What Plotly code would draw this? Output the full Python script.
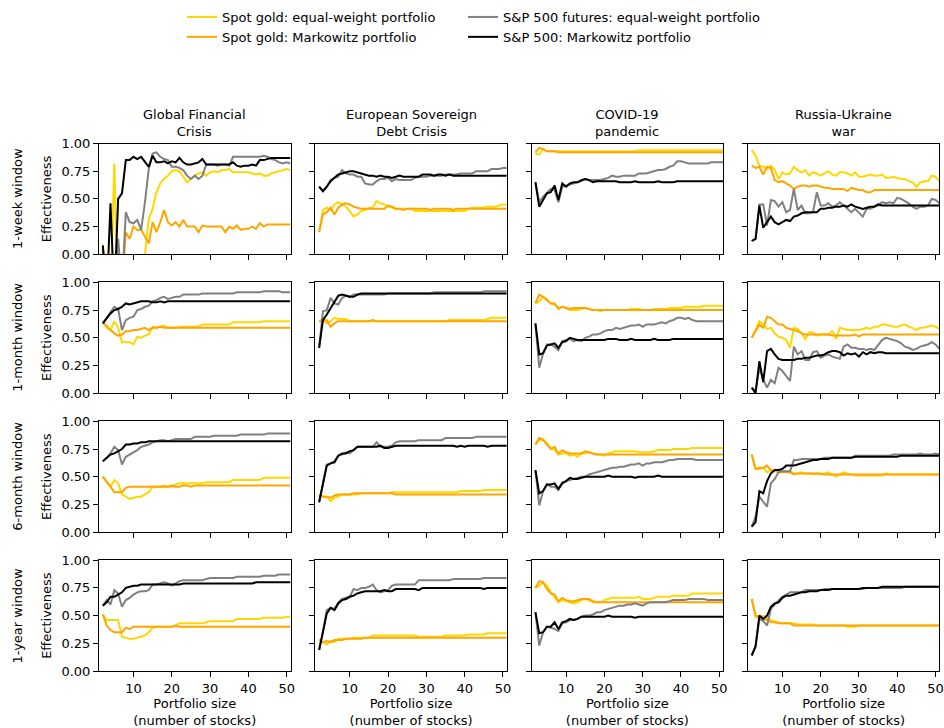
import plotly.graph_objects as go

# ---------------- data ----------------
sizes = list(range(2, 52))  # portfolio size (number of stocks)

crises = ["Global Financial<br>Crisis", "European Sovereign<br>Debt Crisis",
          "COVID-19<br>pandemic", "Russia-Ukraine<br>war"]
windows = ["1-week window", "1-month window", "6-month window", "1-year window"]
series_names = ["Spot gold: equal-weight portfolio", "Spot gold: Markowitz portfolio",
                "S&P 500 futures: equal-weight portfolio", "S&P 500: Markowitz portfolio"]
series_colors = ["#FFD700", "#FFA500", "#808080", "#000000"]
x_ticks = [10, 20, 30, 40, 50]
y_ticks = [0.0, 0.25, 0.5, 0.75, 1.0]

# Global Financial Crisis
gfc_1w_gold_eq = [0.08,-0.3,-0.4,0.82,-0.5,-0.5,-0.5,-0.5,-0.5,-0.4,
                  -0.2,0.00,0.32,0.41,0.56,0.64,0.68,0.71,0.75,0.76,
                  0.75,0.70,0.65,0.68,0.71,0.73,0.74,0.71,0.74,0.75,
                  0.74,0.76,0.76,0.77,0.74,0.74,0.74,0.74,0.74,0.73,
                  0.72,0.73,0.71,0.71,0.73,0.74,0.75,0.76,0.77,0.76]
gfc_1w_gold_mk = [0.07,-0.3,-0.5,-0.5,-0.5,-0.3,0.20,0.14,0.25,0.22,
                  0.22,0.16,0.10,0.29,0.20,0.29,0.40,0.29,0.26,0.29,
                  0.25,0.31,0.25,0.25,0.25,0.20,0.26,0.25,0.25,0.25,
                  0.25,0.25,0.20,0.25,0.23,0.26,0.22,0.23,0.23,0.25,
                  0.23,0.28,0.25,0.27,0.27,0.27,0.27,0.27,0.27,0.27]
gfc_1w_sp_eq = [0.03,-0.3,-0.5,-0.3,0.14,-0.3,0.38,0.29,0.28,0.31,
                0.22,0.47,0.77,0.91,0.92,0.88,0.86,0.85,0.79,0.79,
                0.78,0.76,0.71,0.68,0.71,0.68,0.71,0.81,0.81,0.81,
                0.80,0.81,0.81,0.80,0.88,0.88,0.88,0.88,0.88,0.88,
                0.88,0.88,0.89,0.88,0.86,0.85,0.83,0.82,0.83,0.82]
gfc_1w_sp_mk = [0.08,-0.4,0.46,-0.4,0.50,0.55,0.85,0.85,0.88,0.86,
                0.88,0.83,0.79,0.89,0.83,0.83,0.84,0.82,0.84,0.83,
                0.87,0.83,0.81,0.81,0.82,0.83,0.86,0.81,0.81,0.81,
                0.81,0.81,0.81,0.81,0.83,0.80,0.79,0.80,0.80,0.81,
                0.80,0.85,0.85,0.86,0.87,0.87,0.87,0.87,0.87,0.87]

gfc_1m_gold_eq = [0.64,0.59,0.57,0.65,0.59,0.46,0.46,0.46,0.44,0.51,
                  0.50,0.52,0.53,0.60,0.59,0.60,0.61,0.59,0.59,0.59,
                  0.60,0.60,0.60,0.60,0.60,0.60,0.62,0.62,0.62,0.62,
                  0.62,0.62,0.62,0.62,0.64,0.64,0.64,0.64,0.64,0.64,
                  0.64,0.64,0.65,0.65,0.65,0.65,0.65,0.65,0.65,0.65]
gfc_1m_gold_mk = [0.64,0.60,0.57,0.54,0.52,0.53,0.56,0.56,0.57,0.57,
                  0.58,0.59,0.57,0.59,0.59,0.60,0.59,0.59,0.59,0.59,
                  0.59,0.59,0.59,0.59,0.59,0.59,0.59,0.59,0.59,0.59,
                  0.59,0.59,0.59,0.59,0.59,0.59,0.59,0.59,0.59,0.59,
                  0.59,0.59,0.59,0.59,0.59,0.59,0.59,0.59,0.59,0.59]
gfc_1m_sp_eq = [0.63,0.68,0.72,0.78,0.76,0.57,0.66,0.68,0.69,0.75,
                0.76,0.78,0.79,0.83,0.84,0.86,0.87,0.85,0.86,0.87,
                0.87,0.89,0.89,0.89,0.89,0.89,0.90,0.90,0.90,0.90,
                0.90,0.90,0.90,0.90,0.90,0.91,0.91,0.91,0.91,0.91,
                0.91,0.91,0.92,0.92,0.92,0.92,0.92,0.91,0.91,0.91]
gfc_1m_sp_mk = [0.63,0.68,0.72,0.75,0.76,0.78,0.81,0.80,0.81,0.82,
                0.83,0.83,0.83,0.82,0.82,0.83,0.82,0.83,0.83,0.83,
                0.83,0.83,0.83,0.83,0.83,0.83,0.83,0.83,0.83,0.83,
                0.83,0.83,0.83,0.83,0.83,0.83,0.83,0.83,0.83,0.83,
                0.83,0.83,0.83,0.83,0.83,0.83,0.83,0.83,0.83,0.83]

gfc_6m_gold_eq = [0.50,0.46,0.41,0.47,0.44,0.34,0.32,0.30,0.31,0.32,
                  0.32,0.34,0.36,0.41,0.41,0.41,0.42,0.41,0.41,0.43,
                  0.44,0.44,0.44,0.44,0.44,0.44,0.44,0.45,0.45,0.45,
                  0.45,0.45,0.45,0.45,0.47,0.47,0.47,0.47,0.47,0.47,
                  0.47,0.47,0.49,0.49,0.49,0.49,0.49,0.49,0.49,0.49]
gfc_6m_gold_mk = [0.50,0.46,0.41,0.36,0.36,0.36,0.40,0.41,0.41,0.41,
                  0.41,0.41,0.41,0.41,0.41,0.41,0.41,0.41,0.42,0.41,
                  0.41,0.42,0.42,0.41,0.42,0.42,0.42,0.42,0.42,0.42,
                  0.42,0.42,0.42,0.42,0.42,0.42,0.42,0.42,0.42,0.42,
                  0.42,0.42,0.42,0.42,0.42,0.42,0.42,0.42,0.42,0.42]
gfc_6m_sp_eq = [0.64,0.67,0.71,0.77,0.74,0.61,0.68,0.70,0.72,0.74,
                0.77,0.78,0.79,0.81,0.82,0.83,0.83,0.82,0.83,0.84,
                0.84,0.84,0.84,0.84,0.86,0.86,0.86,0.86,0.86,0.87,
                0.87,0.87,0.87,0.87,0.87,0.87,0.88,0.88,0.88,0.88,
                0.88,0.88,0.88,0.89,0.89,0.89,0.89,0.89,0.89,0.89]
gfc_6m_sp_mk = [0.64,0.67,0.70,0.71,0.73,0.75,0.79,0.79,0.80,0.80,
                0.81,0.81,0.82,0.82,0.82,0.82,0.82,0.82,0.82,0.82,
                0.82,0.82,0.82,0.82,0.82,0.82,0.82,0.82,0.82,0.82,
                0.82,0.82,0.82,0.82,0.82,0.82,0.82,0.82,0.82,0.82,
                0.82,0.82,0.82,0.82,0.82,0.82,0.82,0.82,0.82,0.82]

gfc_1y_gold_eq = [0.51,0.46,0.46,0.46,0.46,0.31,0.30,0.29,0.29,0.30,
                  0.31,0.32,0.35,0.39,0.40,0.40,0.40,0.40,0.40,0.41,
                  0.43,0.43,0.43,0.43,0.43,0.43,0.43,0.44,0.45,0.45,
                  0.45,0.45,0.45,0.45,0.45,0.47,0.47,0.47,0.47,0.47,
                  0.47,0.47,0.48,0.48,0.48,0.48,0.48,0.48,0.49,0.49]
gfc_1y_gold_mk = [0.51,0.41,0.37,0.35,0.35,0.35,0.39,0.38,0.40,0.40,
                  0.40,0.40,0.40,0.40,0.40,0.40,0.40,0.40,0.40,0.41,
                  0.40,0.40,0.40,0.40,0.40,0.40,0.40,0.40,0.40,0.40,
                  0.40,0.40,0.40,0.40,0.40,0.40,0.40,0.40,0.40,0.40,
                  0.40,0.40,0.40,0.40,0.40,0.40,0.40,0.40,0.40,0.40]
gfc_1y_sp_eq = [0.59,0.64,0.60,0.73,0.70,0.58,0.64,0.66,0.69,0.71,
                0.72,0.72,0.73,0.78,0.78,0.79,0.80,0.79,0.77,0.79,
                0.81,0.82,0.82,0.82,0.82,0.82,0.82,0.83,0.84,0.84,
                0.84,0.84,0.84,0.84,0.84,0.85,0.85,0.85,0.85,0.85,
                0.85,0.85,0.86,0.86,0.86,0.86,0.87,0.87,0.87,0.87]
gfc_1y_sp_mk = [0.59,0.62,0.67,0.67,0.69,0.71,0.75,0.76,0.77,0.77,
                0.78,0.78,0.78,0.78,0.78,0.78,0.78,0.78,0.78,0.78,
                0.78,0.79,0.79,0.79,0.79,0.79,0.79,0.79,0.79,0.79,
                0.79,0.79,0.79,0.79,0.79,0.79,0.79,0.79,0.79,0.79,
                0.80,0.80,0.80,0.80,0.80,0.80,0.80,0.80,0.80,0.80]

# European Sovereign Debt Crisis
eu_1w_gold_eq = [0.20,0.40,0.42,0.40,0.45,0.47,0.45,0.43,0.39,0.34,
                 0.36,0.39,0.40,0.42,0.42,0.48,0.46,0.45,0.43,0.42,
                 0.41,0.41,0.41,0.41,0.41,0.39,0.39,0.39,0.39,0.39,
                 0.39,0.39,0.39,0.39,0.39,0.39,0.39,0.39,0.39,0.41,
                 0.42,0.42,0.42,0.42,0.43,0.43,0.43,0.44,0.45,0.45]
eu_1w_gold_mk = [0.20,0.36,0.38,0.42,0.36,0.42,0.45,0.46,0.45,0.43,
                 0.42,0.41,0.41,0.41,0.41,0.41,0.41,0.41,0.44,0.43,
                 0.41,0.41,0.40,0.41,0.41,0.41,0.41,0.41,0.41,0.40,
                 0.41,0.41,0.41,0.41,0.41,0.40,0.41,0.41,0.41,0.41,
                 0.41,0.41,0.41,0.41,0.41,0.41,0.41,0.41,0.41,0.41]
eu_1w_sp_eq = [0.61,0.57,0.61,0.67,0.69,0.70,0.76,0.73,0.72,0.72,
               0.70,0.70,0.64,0.63,0.63,0.66,0.68,0.68,0.69,0.66,
               0.68,0.67,0.67,0.67,0.67,0.69,0.70,0.70,0.70,0.71,
               0.71,0.71,0.71,0.72,0.72,0.72,0.72,0.73,0.73,0.73,
               0.73,0.75,0.75,0.75,0.75,0.77,0.77,0.77,0.78,0.78]
eu_1w_sp_mk = [0.61,0.57,0.61,0.66,0.69,0.72,0.73,0.74,0.75,0.75,
               0.74,0.73,0.72,0.71,0.71,0.70,0.71,0.70,0.70,0.69,
               0.70,0.71,0.70,0.70,0.70,0.70,0.70,0.72,0.72,0.72,
               0.71,0.72,0.72,0.71,0.72,0.71,0.71,0.71,0.71,0.71,
               0.71,0.71,0.71,0.71,0.71,0.71,0.71,0.71,0.71,0.71]

eu_1m_gold_eq = [0.65,0.67,0.63,0.65,0.68,0.67,0.67,0.67,0.65,0.65,
                 0.65,0.65,0.65,0.65,0.65,0.65,0.65,0.65,0.65,0.65,
                 0.65,0.65,0.65,0.65,0.65,0.65,0.65,0.65,0.65,0.65,
                 0.65,0.65,0.65,0.65,0.66,0.66,0.66,0.66,0.66,0.66,
                 0.66,0.66,0.66,0.66,0.67,0.68,0.68,0.68,0.68,0.68]
eu_1m_gold_mk = [0.65,0.65,0.66,0.60,0.63,0.65,0.65,0.65,0.65,0.65,
                 0.65,0.65,0.65,0.65,0.66,0.65,0.65,0.65,0.65,0.65,
                 0.65,0.65,0.65,0.65,0.65,0.65,0.65,0.65,0.65,0.65,
                 0.65,0.65,0.65,0.65,0.65,0.65,0.65,0.65,0.65,0.65,
                 0.65,0.65,0.65,0.65,0.65,0.65,0.65,0.65,0.65,0.65]
eu_1m_sp_eq = [0.41,0.74,0.75,0.86,0.81,0.80,0.86,0.88,0.87,0.89,
               0.89,0.89,0.89,0.89,0.89,0.89,0.89,0.89,0.90,0.90,
               0.90,0.90,0.90,0.90,0.90,0.90,0.90,0.90,0.90,0.90,
               0.91,0.91,0.91,0.91,0.91,0.91,0.91,0.91,0.91,0.91,
               0.91,0.91,0.91,0.92,0.92,0.92,0.92,0.92,0.92,0.92]
eu_1m_sp_mk = [0.41,0.66,0.71,0.77,0.83,0.88,0.89,0.88,0.87,0.87,
               0.89,0.90,0.90,0.90,0.90,0.90,0.90,0.90,0.90,0.90,
               0.90,0.90,0.90,0.90,0.90,0.90,0.90,0.90,0.90,0.90,
               0.90,0.90,0.90,0.90,0.90,0.90,0.90,0.90,0.90,0.90,
               0.90,0.90,0.90,0.90,0.90,0.90,0.90,0.90,0.90,0.90]

eu_6m_gold_eq = [0.34,0.32,0.32,0.28,0.31,0.32,0.34,0.34,0.34,0.34,
                 0.34,0.35,0.35,0.35,0.35,0.35,0.35,0.35,0.35,0.36,
                 0.36,0.36,0.36,0.36,0.36,0.36,0.36,0.36,0.36,0.36,
                 0.36,0.36,0.36,0.36,0.36,0.36,0.36,0.37,0.37,0.37,
                 0.37,0.37,0.37,0.38,0.38,0.38,0.38,0.38,0.38,0.38]
eu_6m_gold_mk = [0.34,0.32,0.32,0.31,0.33,0.34,0.34,0.34,0.34,0.35,
                 0.35,0.35,0.35,0.35,0.35,0.35,0.35,0.35,0.35,0.35,
                 0.34,0.34,0.34,0.34,0.34,0.34,0.34,0.34,0.34,0.34,
                 0.34,0.34,0.34,0.34,0.34,0.34,0.34,0.34,0.34,0.34,
                 0.34,0.34,0.34,0.34,0.34,0.34,0.34,0.34,0.34,0.34]
eu_6m_sp_eq = [0.27,0.43,0.61,0.62,0.64,0.69,0.70,0.72,0.71,0.74,
               0.77,0.77,0.77,0.77,0.77,0.81,0.77,0.77,0.77,0.78,
               0.81,0.82,0.82,0.82,0.82,0.82,0.83,0.83,0.83,0.83,
               0.83,0.83,0.83,0.85,0.85,0.85,0.85,0.85,0.85,0.85,
               0.85,0.86,0.86,0.86,0.86,0.86,0.86,0.86,0.86,0.86]
eu_6m_sp_mk = [0.27,0.44,0.60,0.62,0.63,0.69,0.71,0.71,0.73,0.74,
               0.77,0.77,0.77,0.77,0.77,0.77,0.78,0.76,0.76,0.77,
               0.78,0.78,0.78,0.78,0.78,0.78,0.78,0.78,0.78,0.78,
               0.78,0.78,0.78,0.78,0.78,0.78,0.77,0.78,0.77,0.78,
               0.78,0.78,0.78,0.78,0.77,0.78,0.78,0.78,0.78,0.78]

eu_1y_gold_eq = [0.28,0.26,0.24,0.27,0.26,0.29,0.29,0.29,0.29,0.30,
                 0.30,0.30,0.30,0.30,0.32,0.32,0.32,0.32,0.32,0.32,
                 0.32,0.32,0.32,0.32,0.32,0.32,0.31,0.31,0.31,0.31,
                 0.31,0.31,0.31,0.32,0.32,0.32,0.32,0.32,0.32,0.33,
                 0.33,0.33,0.33,0.33,0.34,0.34,0.34,0.34,0.34,0.34]
eu_1y_gold_mk = [0.28,0.26,0.27,0.26,0.28,0.28,0.28,0.29,0.29,0.29,
                 0.29,0.29,0.30,0.30,0.30,0.30,0.30,0.30,0.30,0.30,
                 0.30,0.30,0.30,0.30,0.30,0.30,0.30,0.30,0.30,0.30,
                 0.30,0.30,0.30,0.30,0.30,0.30,0.30,0.30,0.30,0.30,
                 0.30,0.30,0.30,0.30,0.30,0.30,0.30,0.30,0.30,0.30]
eu_1y_sp_eq = [0.19,0.35,0.55,0.57,0.56,0.62,0.65,0.66,0.67,0.74,
               0.73,0.75,0.75,0.76,0.78,0.73,0.71,0.72,0.73,0.77,
               0.78,0.78,0.78,0.78,0.78,0.78,0.82,0.82,0.82,0.82,
               0.82,0.82,0.82,0.82,0.82,0.83,0.83,0.83,0.83,0.83,
               0.83,0.83,0.83,0.84,0.84,0.84,0.84,0.84,0.84,0.84]
eu_1y_sp_mk = [0.19,0.35,0.52,0.57,0.55,0.61,0.64,0.65,0.67,0.68,
               0.70,0.71,0.72,0.72,0.72,0.72,0.72,0.73,0.72,0.72,
               0.74,0.74,0.74,0.74,0.74,0.74,0.73,0.75,0.75,0.75,
               0.75,0.75,0.75,0.75,0.75,0.75,0.75,0.75,0.75,0.75,
               0.75,0.75,0.75,0.74,0.75,0.75,0.75,0.75,0.75,0.75]

# COVID-19 pandemic
cov_1w_gold_eq = [0.91,0.90,0.95,0.93,0.93,0.93,0.93,0.93,0.93,0.93,
                  0.93,0.93,0.93,0.93,0.93,0.93,0.93,0.93,0.93,0.93,
                  0.93,0.93,0.93,0.93,0.93,0.93,0.93,0.94,0.94,0.94,
                  0.94,0.94,0.94,0.94,0.94,0.94,0.94,0.94,0.94,0.94,
                  0.94,0.94,0.94,0.94,0.94,0.94,0.94,0.94,0.94,0.94]
cov_1w_gold_mk = [0.92,0.96,0.95,0.93,0.93,0.93,0.92,0.92,0.92,0.92,
                  0.92,0.92,0.92,0.92,0.92,0.92,0.92,0.92,0.92,0.92,
                  0.92,0.92,0.92,0.92,0.92,0.92,0.92,0.92,0.92,0.92,
                  0.92,0.92,0.92,0.92,0.92,0.92,0.92,0.92,0.92,0.92,
                  0.92,0.92,0.92,0.92,0.92,0.92,0.92,0.92,0.92,0.92]
cov_1w_sp_eq = [0.65,0.47,0.52,0.56,0.59,0.58,0.47,0.61,0.62,0.63,
                0.64,0.65,0.66,0.68,0.67,0.67,0.67,0.67,0.68,0.69,
                0.71,0.70,0.70,0.71,0.71,0.71,0.71,0.73,0.73,0.73,
                0.74,0.75,0.76,0.76,0.77,0.79,0.80,0.84,0.84,0.83,
                0.82,0.82,0.82,0.82,0.82,0.82,0.83,0.83,0.83,0.83]
cov_1w_sp_mk = [0.65,0.43,0.49,0.55,0.56,0.62,0.49,0.64,0.61,0.64,
                0.65,0.65,0.67,0.68,0.67,0.65,0.66,0.66,0.66,0.66,
                0.66,0.66,0.65,0.65,0.65,0.65,0.66,0.65,0.65,0.65,
                0.65,0.65,0.66,0.65,0.65,0.65,0.65,0.66,0.66,0.66,
                0.66,0.66,0.66,0.66,0.66,0.66,0.66,0.66,0.66,0.66]

cov_1m_gold_eq = [0.81,0.83,0.87,0.85,0.81,0.80,0.77,0.78,0.77,0.75,
                  0.75,0.75,0.76,0.77,0.76,0.75,0.75,0.74,0.75,0.75,
                  0.75,0.75,0.75,0.75,0.75,0.76,0.76,0.76,0.75,0.75,
                  0.75,0.76,0.76,0.76,0.76,0.77,0.77,0.77,0.77,0.78,
                  0.78,0.78,0.78,0.78,0.79,0.79,0.79,0.79,0.79,0.79]
cov_1m_gold_mk = [0.81,0.89,0.87,0.84,0.81,0.81,0.76,0.78,0.77,0.76,
                  0.77,0.77,0.77,0.77,0.76,0.75,0.75,0.75,0.75,0.75,
                  0.75,0.75,0.75,0.75,0.75,0.75,0.75,0.75,0.75,0.75,
                  0.75,0.75,0.75,0.75,0.75,0.75,0.75,0.75,0.75,0.75,
                  0.75,0.75,0.75,0.75,0.75,0.75,0.75,0.75,0.75,0.75]
cov_1m_sp_eq = [0.63,0.23,0.36,0.44,0.44,0.42,0.39,0.47,0.48,0.49,
                0.47,0.48,0.47,0.50,0.51,0.53,0.53,0.54,0.56,0.57,
                0.57,0.59,0.58,0.59,0.60,0.61,0.61,0.62,0.60,0.62,
                0.62,0.62,0.63,0.64,0.63,0.65,0.66,0.68,0.68,0.67,
                0.68,0.66,0.65,0.65,0.65,0.65,0.65,0.65,0.65,0.65]
cov_1m_sp_mk = [0.63,0.35,0.36,0.43,0.44,0.45,0.41,0.46,0.47,0.50,
                0.49,0.48,0.48,0.48,0.48,0.48,0.48,0.48,0.48,0.49,
                0.49,0.49,0.48,0.48,0.48,0.49,0.48,0.48,0.48,0.48,
                0.48,0.49,0.48,0.48,0.48,0.48,0.49,0.49,0.49,0.49,
                0.49,0.49,0.49,0.49,0.49,0.49,0.49,0.49,0.49,0.49]

cov_6m_gold_eq = [0.79,0.83,0.84,0.80,0.76,0.74,0.70,0.71,0.71,0.69,
                  0.70,0.68,0.71,0.71,0.72,0.71,0.70,0.70,0.69,0.71,
                  0.72,0.73,0.73,0.73,0.73,0.73,0.73,0.72,0.72,0.72,
                  0.72,0.73,0.74,0.74,0.74,0.74,0.75,0.75,0.75,0.75,
                  0.75,0.76,0.76,0.76,0.76,0.76,0.76,0.76,0.76,0.76]
cov_6m_gold_mk = [0.79,0.85,0.83,0.79,0.75,0.77,0.71,0.74,0.72,0.71,
                  0.71,0.71,0.71,0.73,0.72,0.71,0.70,0.70,0.70,0.70,
                  0.70,0.70,0.70,0.70,0.70,0.70,0.70,0.70,0.70,0.70,
                  0.70,0.70,0.70,0.70,0.70,0.70,0.70,0.70,0.70,0.70,
                  0.70,0.70,0.70,0.70,0.70,0.70,0.70,0.70,0.70,0.70]
cov_6m_sp_eq = [0.56,0.24,0.37,0.43,0.41,0.41,0.38,0.45,0.46,0.47,
                0.48,0.49,0.50,0.50,0.52,0.53,0.54,0.55,0.56,0.57,
                0.58,0.58,0.59,0.59,0.60,0.61,0.61,0.62,0.60,0.62,
                0.62,0.63,0.63,0.63,0.64,0.65,0.65,0.66,0.66,0.66,
                0.66,0.66,0.65,0.65,0.65,0.65,0.65,0.65,0.65,0.65]
cov_6m_sp_mk = [0.56,0.35,0.37,0.43,0.43,0.44,0.39,0.44,0.46,0.49,
                0.48,0.48,0.49,0.50,0.50,0.50,0.50,0.50,0.50,0.51,
                0.50,0.50,0.50,0.50,0.50,0.50,0.49,0.50,0.50,0.50,
                0.50,0.50,0.51,0.50,0.50,0.50,0.50,0.50,0.50,0.50,
                0.50,0.50,0.50,0.50,0.50,0.50,0.50,0.50,0.50,0.50]

cov_1y_gold_eq = [0.75,0.77,0.80,0.77,0.71,0.67,0.62,0.64,0.63,0.62,
                  0.61,0.62,0.64,0.65,0.64,0.62,0.62,0.62,0.64,0.65,
                  0.66,0.66,0.66,0.66,0.66,0.66,0.66,0.67,0.65,0.65,
                  0.65,0.66,0.67,0.67,0.67,0.67,0.68,0.68,0.68,0.68,
                  0.68,0.70,0.70,0.70,0.70,0.70,0.70,0.70,0.70,0.70]
cov_1y_gold_mk = [0.75,0.81,0.80,0.74,0.70,0.69,0.63,0.66,0.64,0.63,
                  0.63,0.64,0.65,0.65,0.65,0.63,0.62,0.62,0.62,0.62,
                  0.62,0.62,0.62,0.62,0.62,0.62,0.62,0.62,0.62,0.62,
                  0.62,0.62,0.62,0.62,0.62,0.62,0.62,0.62,0.62,0.62,
                  0.62,0.62,0.62,0.62,0.62,0.62,0.62,0.62,0.62,0.62]
cov_1y_sp_eq = [0.53,0.23,0.35,0.40,0.39,0.38,0.36,0.43,0.44,0.46,
                0.46,0.47,0.49,0.50,0.50,0.51,0.53,0.53,0.55,0.56,
                0.57,0.58,0.59,0.59,0.60,0.60,0.61,0.60,0.59,0.61,
                0.62,0.62,0.62,0.62,0.62,0.63,0.64,0.64,0.64,0.64,
                0.65,0.65,0.65,0.65,0.65,0.64,0.64,0.64,0.64,0.64]
cov_1y_sp_mk = [0.53,0.34,0.35,0.40,0.40,0.44,0.38,0.44,0.45,0.47,
                0.46,0.47,0.49,0.49,0.49,0.49,0.49,0.49,0.49,0.50,
                0.49,0.49,0.49,0.49,0.49,0.49,0.48,0.49,0.49,0.49,
                0.49,0.49,0.49,0.49,0.49,0.49,0.49,0.49,0.49,0.49,
                0.49,0.49,0.49,0.49,0.49,0.49,0.49,0.49,0.49,0.49]

# Russia-Ukraine war
ru_1w_gold_eq = [0.94,0.89,0.80,0.79,0.77,0.80,0.76,0.68,0.74,0.72,
                 0.73,0.79,0.76,0.74,0.76,0.71,0.74,0.73,0.71,0.73,
                 0.75,0.72,0.71,0.74,0.74,0.73,0.71,0.74,0.70,0.70,
                 0.71,0.72,0.71,0.71,0.72,0.69,0.69,0.70,0.69,0.68,
                 0.68,0.66,0.65,0.61,0.65,0.66,0.66,0.71,0.70,0.66]
ru_1w_gold_mk = [0.80,0.78,0.79,0.72,0.79,0.78,0.67,0.65,0.66,0.64,
                 0.62,0.59,0.61,0.62,0.62,0.61,0.62,0.62,0.61,0.60,
                 0.60,0.59,0.59,0.59,0.59,0.57,0.60,0.59,0.58,0.58,
                 0.56,0.56,0.58,0.58,0.58,0.58,0.58,0.58,0.58,0.58,
                 0.58,0.58,0.58,0.58,0.58,0.58,0.58,0.58,0.58,0.58]
ru_1w_sp_eq = [0.12,0.14,0.45,0.45,0.26,0.49,0.48,0.43,0.47,0.38,
               0.40,0.59,0.40,0.44,0.37,0.37,0.38,0.56,0.44,0.44,
               0.46,0.43,0.44,0.47,0.44,0.41,0.38,0.41,0.37,0.34,
               0.41,0.41,0.43,0.44,0.47,0.46,0.47,0.46,0.51,0.50,
               0.48,0.46,0.43,0.41,0.43,0.43,0.44,0.50,0.49,0.46]
ru_1w_sp_mk = [0.12,0.14,0.44,0.24,0.29,0.34,0.29,0.27,0.29,0.31,
               0.30,0.34,0.35,0.37,0.38,0.38,0.38,0.38,0.41,0.41,
               0.42,0.42,0.43,0.43,0.44,0.43,0.45,0.43,0.42,0.41,
               0.42,0.43,0.43,0.45,0.44,0.44,0.44,0.44,0.44,0.44,
               0.44,0.44,0.44,0.44,0.44,0.44,0.44,0.44,0.44,0.44]

ru_1m_gold_eq = [0.50,0.57,0.65,0.62,0.58,0.59,0.54,0.51,0.50,0.48,
                 0.41,0.59,0.58,0.54,0.49,0.55,0.55,0.52,0.53,0.53,
                 0.53,0.56,0.49,0.59,0.58,0.57,0.57,0.57,0.57,0.58,
                 0.59,0.58,0.60,0.60,0.62,0.62,0.61,0.60,0.60,0.61,
                 0.62,0.60,0.59,0.57,0.59,0.59,0.60,0.61,0.60,0.58]
ru_1m_gold_mk = [0.50,0.56,0.62,0.59,0.69,0.68,0.65,0.62,0.62,0.59,
                 0.58,0.57,0.56,0.54,0.53,0.53,0.53,0.53,0.53,0.53,
                 0.53,0.52,0.52,0.52,0.52,0.52,0.52,0.53,0.51,0.53,
                 0.53,0.53,0.53,0.53,0.53,0.53,0.53,0.53,0.53,0.53,
                 0.53,0.53,0.53,0.53,0.53,0.53,0.53,0.53,0.53,0.53]
ru_1m_sp_eq = [0.05,0.02,0.23,0.12,0.05,0.12,0.09,0.23,0.20,0.16,
               0.11,0.42,0.35,0.38,0.30,0.30,0.37,0.38,0.32,0.34,
               0.35,0.33,0.32,0.31,0.42,0.44,0.41,0.41,0.40,0.40,
               0.39,0.40,0.39,0.44,0.48,0.50,0.49,0.48,0.47,0.45,
               0.42,0.41,0.39,0.40,0.42,0.43,0.44,0.46,0.44,0.40]
ru_1m_sp_mk = [0.05,0.00,0.29,0.10,0.38,0.40,0.35,0.31,0.30,0.30,
               0.30,0.30,0.31,0.31,0.32,0.32,0.33,0.34,0.34,0.35,
               0.37,0.38,0.38,0.37,0.34,0.36,0.35,0.36,0.33,0.37,
               0.35,0.37,0.36,0.37,0.37,0.36,0.36,0.36,0.36,0.36,
               0.36,0.36,0.36,0.36,0.36,0.36,0.36,0.36,0.36,0.36]

ru_6m_gold_eq = [0.70,0.57,0.57,0.58,0.54,0.56,0.55,0.56,0.55,0.54,
                 0.55,0.53,0.53,0.54,0.53,0.53,0.52,0.53,0.52,0.53,
                 0.54,0.52,0.50,0.52,0.54,0.53,0.52,0.51,0.51,0.51,
                 0.51,0.51,0.51,0.51,0.51,0.53,0.52,0.52,0.52,0.52,
                 0.52,0.52,0.52,0.52,0.52,0.52,0.52,0.52,0.52,0.52]
ru_6m_gold_mk = [0.70,0.57,0.58,0.58,0.60,0.56,0.55,0.54,0.54,0.54,
                 0.54,0.52,0.53,0.53,0.53,0.53,0.53,0.53,0.53,0.52,
                 0.52,0.52,0.52,0.52,0.52,0.52,0.52,0.52,0.52,0.52,
                 0.52,0.52,0.52,0.52,0.52,0.52,0.52,0.52,0.52,0.52,
                 0.52,0.52,0.52,0.52,0.52,0.52,0.52,0.52,0.52,0.52]
ru_6m_sp_eq = [0.05,0.14,0.32,0.28,0.23,0.44,0.48,0.54,0.55,0.55,
               0.55,0.65,0.65,0.66,0.66,0.66,0.66,0.66,0.66,0.67,
               0.67,0.67,0.67,0.67,0.67,0.67,0.67,0.69,0.69,0.69,
               0.69,0.69,0.69,0.69,0.69,0.69,0.69,0.70,0.70,0.70,
               0.70,0.70,0.70,0.70,0.71,0.70,0.70,0.70,0.71,0.70]
ru_6m_sp_mk = [0.05,0.09,0.37,0.35,0.46,0.53,0.56,0.56,0.57,0.60,
               0.60,0.60,0.61,0.62,0.63,0.64,0.65,0.65,0.66,0.66,
               0.66,0.67,0.67,0.67,0.67,0.67,0.67,0.68,0.68,0.68,
               0.68,0.68,0.68,0.68,0.68,0.68,0.68,0.68,0.68,0.69,
               0.69,0.69,0.69,0.69,0.69,0.69,0.69,0.69,0.69,0.69]

ru_1y_gold_eq = [0.65,0.49,0.48,0.50,0.48,0.46,0.45,0.44,0.43,0.43,
                 0.43,0.43,0.42,0.42,0.42,0.42,0.42,0.41,0.41,0.41,
                 0.41,0.41,0.41,0.41,0.41,0.40,0.40,0.40,0.41,0.41,
                 0.41,0.41,0.41,0.41,0.41,0.41,0.41,0.41,0.41,0.41,
                 0.41,0.41,0.41,0.41,0.41,0.41,0.41,0.41,0.41,0.41]
ru_1y_gold_mk = [0.65,0.50,0.49,0.47,0.46,0.44,0.44,0.43,0.43,0.43,
                 0.43,0.41,0.41,0.41,0.41,0.41,0.41,0.41,0.41,0.41,
                 0.41,0.41,0.41,0.41,0.41,0.41,0.41,0.41,0.41,0.41,
                 0.41,0.41,0.41,0.41,0.41,0.41,0.41,0.41,0.41,0.41,
                 0.41,0.41,0.41,0.41,0.41,0.41,0.41,0.41,0.41,0.41]
ru_1y_sp_eq = [0.14,0.23,0.47,0.45,0.41,0.56,0.60,0.64,0.67,0.69,
               0.71,0.71,0.71,0.71,0.73,0.73,0.73,0.73,0.73,0.74,
               0.74,0.74,0.74,0.74,0.74,0.74,0.74,0.74,0.74,0.74,
               0.75,0.75,0.75,0.75,0.75,0.75,0.75,0.75,0.75,0.75,
               0.76,0.76,0.76,0.76,0.76,0.76,0.76,0.76,0.76,0.76]
ru_1y_sp_mk = [0.14,0.22,0.50,0.47,0.50,0.58,0.61,0.62,0.66,0.68,
               0.68,0.69,0.70,0.71,0.71,0.72,0.72,0.72,0.73,0.73,
               0.73,0.74,0.74,0.74,0.74,0.74,0.74,0.74,0.74,0.75,
               0.75,0.75,0.75,0.75,0.76,0.76,0.76,0.76,0.76,0.76,
               0.76,0.76,0.76,0.76,0.76,0.76,0.76,0.76,0.76,0.76]

panels = [
    [[gfc_1w_gold_eq, gfc_1w_gold_mk, gfc_1w_sp_eq, gfc_1w_sp_mk],
     [eu_1w_gold_eq, eu_1w_gold_mk, eu_1w_sp_eq, eu_1w_sp_mk],
     [cov_1w_gold_eq, cov_1w_gold_mk, cov_1w_sp_eq, cov_1w_sp_mk],
     [ru_1w_gold_eq, ru_1w_gold_mk, ru_1w_sp_eq, ru_1w_sp_mk]],
    [[gfc_1m_gold_eq, gfc_1m_gold_mk, gfc_1m_sp_eq, gfc_1m_sp_mk],
     [eu_1m_gold_eq, eu_1m_gold_mk, eu_1m_sp_eq, eu_1m_sp_mk],
     [cov_1m_gold_eq, cov_1m_gold_mk, cov_1m_sp_eq, cov_1m_sp_mk],
     [ru_1m_gold_eq, ru_1m_gold_mk, ru_1m_sp_eq, ru_1m_sp_mk]],
    [[gfc_6m_gold_eq, gfc_6m_gold_mk, gfc_6m_sp_eq, gfc_6m_sp_mk],
     [eu_6m_gold_eq, eu_6m_gold_mk, eu_6m_sp_eq, eu_6m_sp_mk],
     [cov_6m_gold_eq, cov_6m_gold_mk, cov_6m_sp_eq, cov_6m_sp_mk],
     [ru_6m_gold_eq, ru_6m_gold_mk, ru_6m_sp_eq, ru_6m_sp_mk]],
    [[gfc_1y_gold_eq, gfc_1y_gold_mk, gfc_1y_sp_eq, gfc_1y_sp_mk],
     [eu_1y_gold_eq, eu_1y_gold_mk, eu_1y_sp_eq, eu_1y_sp_mk],
     [cov_1y_gold_eq, cov_1y_gold_mk, cov_1y_sp_eq, cov_1y_sp_mk],
     [ru_1y_gold_eq, ru_1y_gold_mk, ru_1y_sp_eq, ru_1y_sp_mk]],
]

# ---------------- layout geometry (pixels) ----------------
W, H = 944, 728
COL_LEFT = [99, 315.3, 531.6, 747.9]
COL_W = 191.5
ROW_TOP = [143.5, 282.4, 421.3, 560.2]
ROW_H = 110.8
FONT = dict(family="DejaVu Sans", size=13, color="black")

fig = go.Figure()
layout = dict(
    width=W, height=H,
    margin=dict(l=0, r=0, t=0, b=0, autoexpand=False),
    paper_bgcolor="white", plot_bgcolor="white", font=FONT,
    showlegend=True,
)
annotations = []

for r in range(4):
    for c in range(4):
        idx = r * 4 + c + 1
        sfx = "" if idx == 1 else str(idx)
        for s in range(4):
            vals = panels[r][c][s]
            fig.add_trace(go.Scatter(
                x=sizes[:len(vals)], y=vals, mode="lines",
                line=dict(color=series_colors[s], width=2),
                name=series_names[s],
                showlegend=(idx == 1),
                legend="legend" if s < 2 else "legend2",
                xaxis="x" + sfx, yaxis="y" + sfx,
                hoverinfo="skip",
            ))
        x0 = COL_LEFT[c] / W
        x1 = (COL_LEFT[c] + COL_W) / W
        y1 = 1 - ROW_TOP[r] / H
        y0 = 1 - (ROW_TOP[r] + ROW_H) / H
        xa = dict(domain=[x0, x1], anchor="y" + sfx, range=[1, 51],
                  tickvals=x_ticks, showticklabels=(r == 3),
                  showline=True, mirror=True, linecolor="black", linewidth=1,
                  ticks="outside", ticklen=5, tickwidth=1, tickcolor="black",
                  showgrid=False, zeroline=False, tickfont=FONT,
                  automargin=False)
        if r == 3:
            xa["title"] = dict(text="Portfolio size<br>(number of stocks)",
                               font=FONT, standoff=6)
        ya = dict(domain=[y0, y1], anchor="x" + sfx, range=[0, 1],
                  tickvals=y_ticks, tickformat=".2f", showticklabels=(c == 0),
                  showline=True, mirror=True, linecolor="black", linewidth=1,
                  ticks="outside", ticklen=5, tickwidth=1, tickcolor="black",
                  showgrid=False, zeroline=False, tickfont=FONT,
                  automargin=False)
        if c == 0:
            ya["title"] = dict(text="Effectiveness", font=FONT, standoff=6)
        layout["xaxis" + sfx] = xa
        layout["yaxis" + sfx] = ya

for c in range(4):
    annotations.append(dict(
        text=crises[c], x=(COL_LEFT[c] + COL_W / 2) / W, y=1 - 141 / H,
        xref="paper", yref="paper", xanchor="center", yanchor="bottom",
        showarrow=False, font=FONT, align="center"))
for r in range(4):
    annotations.append(dict(
        text=windows[r], x=18 / W, y=1 - (ROW_TOP[r] + ROW_H / 2) / H,
        xref="paper", yref="paper", xanchor="center", yanchor="middle",
        textangle=-90, showarrow=False, font=FONT))

layout["annotations"] = annotations
layout["legend"] = dict(x=182 / W, y=1 - 2 / H, xanchor="left", yanchor="top",
                        orientation="v", font=FONT, bgcolor="rgba(0,0,0,0)",
                        tracegroupgap=0)
layout["legend2"] = dict(x=463 / W, y=1 - 2 / H, xanchor="left", yanchor="top",
                         orientation="v", font=FONT, bgcolor="rgba(0,0,0,0)",
                         tracegroupgap=0)
fig.update_layout(**layout)
fig.write_html("out.html", config={"displayModeBar": False},
               post_script="document.body.style.margin='0px';")
